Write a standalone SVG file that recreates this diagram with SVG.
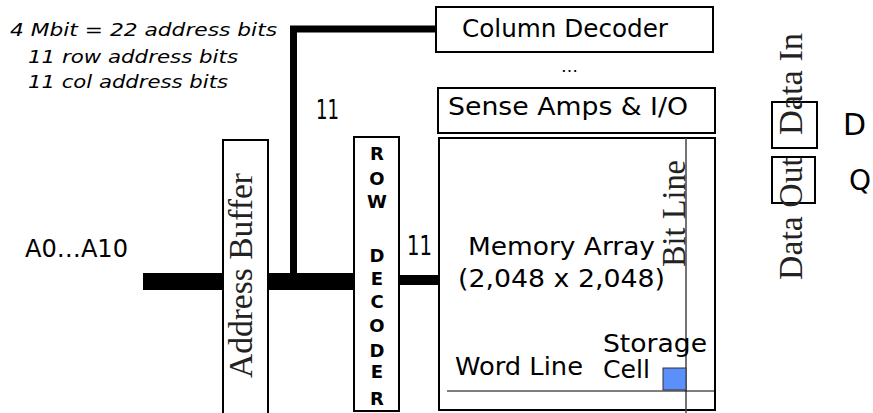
<svg xmlns="http://www.w3.org/2000/svg" width="873" height="413" viewBox="0 0 873 413">
<style>
.box{fill:#fff;stroke:#000;stroke-width:2}
.c{font-family:"DejaVu Sans","Noto Sans",sans-serif;fill:#000}
.it{font-style:italic;font-size:18px}
.lbl{font-size:24px}
.rd{font-size:18px;font-weight:bold;text-anchor:middle}
.sf{font-family:"Liberation Serif","DejaVu Serif",serif;font-size:34px;fill:#222}
.bus{fill:none;stroke:#000}
</style>
<rect width="873" height="413" fill="#fff"/>
<g id="notes">
<text class="c it" x="10" y="36" textLength="267" lengthAdjust="spacingAndGlyphs">4 Mbit = 22 address bits</text>
<text class="c it" x="28" y="63" textLength="210" lengthAdjust="spacingAndGlyphs">11 row address bits</text>
<text class="c it" x="28" y="88" textLength="200" lengthAdjust="spacingAndGlyphs">11 col address bits</text>
</g>
<g id="connectors">
<rect x="143" y="273" width="211" height="17" fill="#000"/>
<path class="bus" d="M293.5,274 V29 H437" stroke-width="7"/>
<rect x="399" y="275" width="41" height="10" fill="#000"/>
<text class="c" x="316" y="119" font-size="26" textLength="23" lengthAdjust="spacingAndGlyphs">11</text>
<text class="c" x="407" y="255" font-size="27" textLength="25" lengthAdjust="spacingAndGlyphs">11</text>
<text class="c" x="25" y="257" font-size="25" textLength="103" lengthAdjust="spacingAndGlyphs">A0…A10</text>
</g>
<g id="address-buffer">
<rect class="box" x="223" y="140" width="45" height="290"/>
<text class="sf" transform="translate(252,378) rotate(-90)" textLength="205" lengthAdjust="spacingAndGlyphs">Address Buffer</text>
</g>
<g id="row-decoder">
<rect class="box" x="354" y="137" width="45" height="274"/>
<text class="c rd" x="377" y="160">R</text>
<text class="c rd" x="377" y="185">O</text>
<text class="c rd" x="377" y="208">W</text>
<text class="c rd" x="377" y="262">D</text>
<text class="c rd" x="377" y="285">E</text>
<text class="c rd" x="377" y="308">C</text>
<text class="c rd" x="377" y="332">O</text>
<text class="c rd" x="377" y="357">D</text>
<text class="c rd" x="377" y="378">E</text>
<text class="c rd" x="377" y="405">R</text>
</g>
<g id="column-decoder">
<rect class="box" x="436" y="7" width="277" height="45"/>
<text class="c lbl" x="462" y="37" textLength="206" lengthAdjust="spacingAndGlyphs">Column Decoder</text>
</g>
<g id="dots">
<text class="c" x="561" y="72" font-size="16" textLength="17" lengthAdjust="spacingAndGlyphs">…</text>
</g>
<g id="sense-amps">
<rect class="box" x="438" y="88" width="277" height="45"/>
<text class="c lbl" x="448" y="115" textLength="240" lengthAdjust="spacingAndGlyphs">Sense Amps &amp; I/O</text>
</g>
<g id="memory-array">
<rect class="box" x="439" y="138" width="276" height="272" stroke-width="2.5"/>
<line x1="686" y1="138" x2="686" y2="413" stroke="#444" stroke-width="1.5"/>
<line x1="447" y1="391" x2="715" y2="391" stroke="#000" stroke-width="1"/>
<rect x="663" y="368" width="23" height="22" fill="#5b8ff9" stroke="#333" stroke-width="1"/>
<text class="c lbl" x="468" y="255" textLength="187" lengthAdjust="spacingAndGlyphs">Memory Array</text>
<text class="c lbl" x="458" y="287" textLength="207" lengthAdjust="spacingAndGlyphs">(2,048 x 2,048)</text>
<text class="sf" transform="translate(685,267) rotate(-90)" textLength="107" lengthAdjust="spacingAndGlyphs">Bit Line</text>
<text class="c lbl" x="455" y="375" textLength="128" lengthAdjust="spacingAndGlyphs">Word Line</text>
<text class="c lbl" x="603" y="352" textLength="104" lengthAdjust="spacingAndGlyphs">Storage</text>
<text class="c lbl" x="603" y="378" textLength="47" lengthAdjust="spacingAndGlyphs">Cell</text>
</g>
<g id="data-in">
<rect x="772" y="102" width="45" height="46" fill="none" stroke="#000" stroke-width="2"/>
<text class="sf" transform="translate(802,135) rotate(-90)" textLength="102" lengthAdjust="spacingAndGlyphs">Data In</text>
<text class="c" x="843" y="135" font-size="30">D</text>
</g>
<g id="data-out">
<rect x="772" y="157" width="43" height="46" fill="none" stroke="#000" stroke-width="2"/>
<text class="sf" transform="translate(802,280) rotate(-90)" textLength="123" lengthAdjust="spacingAndGlyphs">Data Out</text>
<text class="c" x="849" y="190" font-size="28">Q</text>
</g>
</svg>
